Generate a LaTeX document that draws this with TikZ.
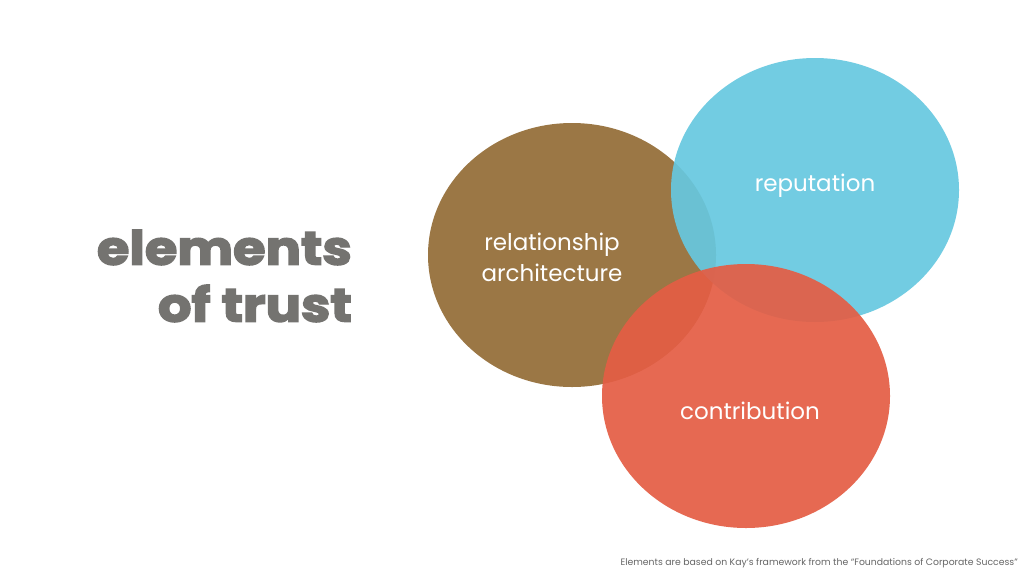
\documentclass[tikz,border=0pt]{standalone}
\usepackage{fontspec}
\setmainfont{Poppins}
\newfontfamily\titlefont{Poppins}[BoldFeatures={FakeBold=3}]
\usetikzlibrary{calc}
\definecolor{brownc}{HTML}{9B7745}
\definecolor{bluec}{HTML}{66C8E0}
\definecolor{redc}{HTML}{E45D44}
\definecolor{titlec}{HTML}{747370}
\definecolor{notec}{HTML}{666666}
\tikzset{
  blob/.style={draw=none},
  lbl/.style={text=white, font=\fontsize{23}{31}\selectfont, align=center, inner sep=0pt},
  ttl/.style={font=\titlefont\fontsize{47}{57}\bfseries\selectfont, align=right, anchor=east, inner sep=0pt, text=titlec},
}
\begin{document}
\begin{tikzpicture}[x=1pt,y=-1pt]
\useasboundingbox (0,0) rectangle (1024,576);
\fill[white] (0,0) rectangle (1024,576);
% ellipses
\fill[brownc, blob] (572,255) ellipse [x radius=144, y radius=132];
\fill[bluec, blob, opacity=0.92] (815,190) ellipse [x radius=144, y radius=132];
\fill[redc, blob, opacity=0.92] (746,396) ellipse [x radius=144, y radius=132];
\coordinate (cb) at (572,255);
\coordinate (cu) at (815,190);
\coordinate (cr) at (746,396);
% labels
\node[lbl] (rel) at (552,257) {relationship\\architecture};
\node[lbl] (rep) at (815,186) {reputation};
\node[lbl] (con) at (750,411) {contribution};
% title
\node[ttl, xscale=1.12] (title) at (352,276) {elements\\of trust};
% footnote
\node[anchor=east, inner sep=0pt, text=notec, font=\fontsize{9.3}{10}\selectfont] (note) at (1018,563) {Elements are based on Kay’s framework from the “Foundations of Corporate Success”};
\end{tikzpicture}
\end{document}
